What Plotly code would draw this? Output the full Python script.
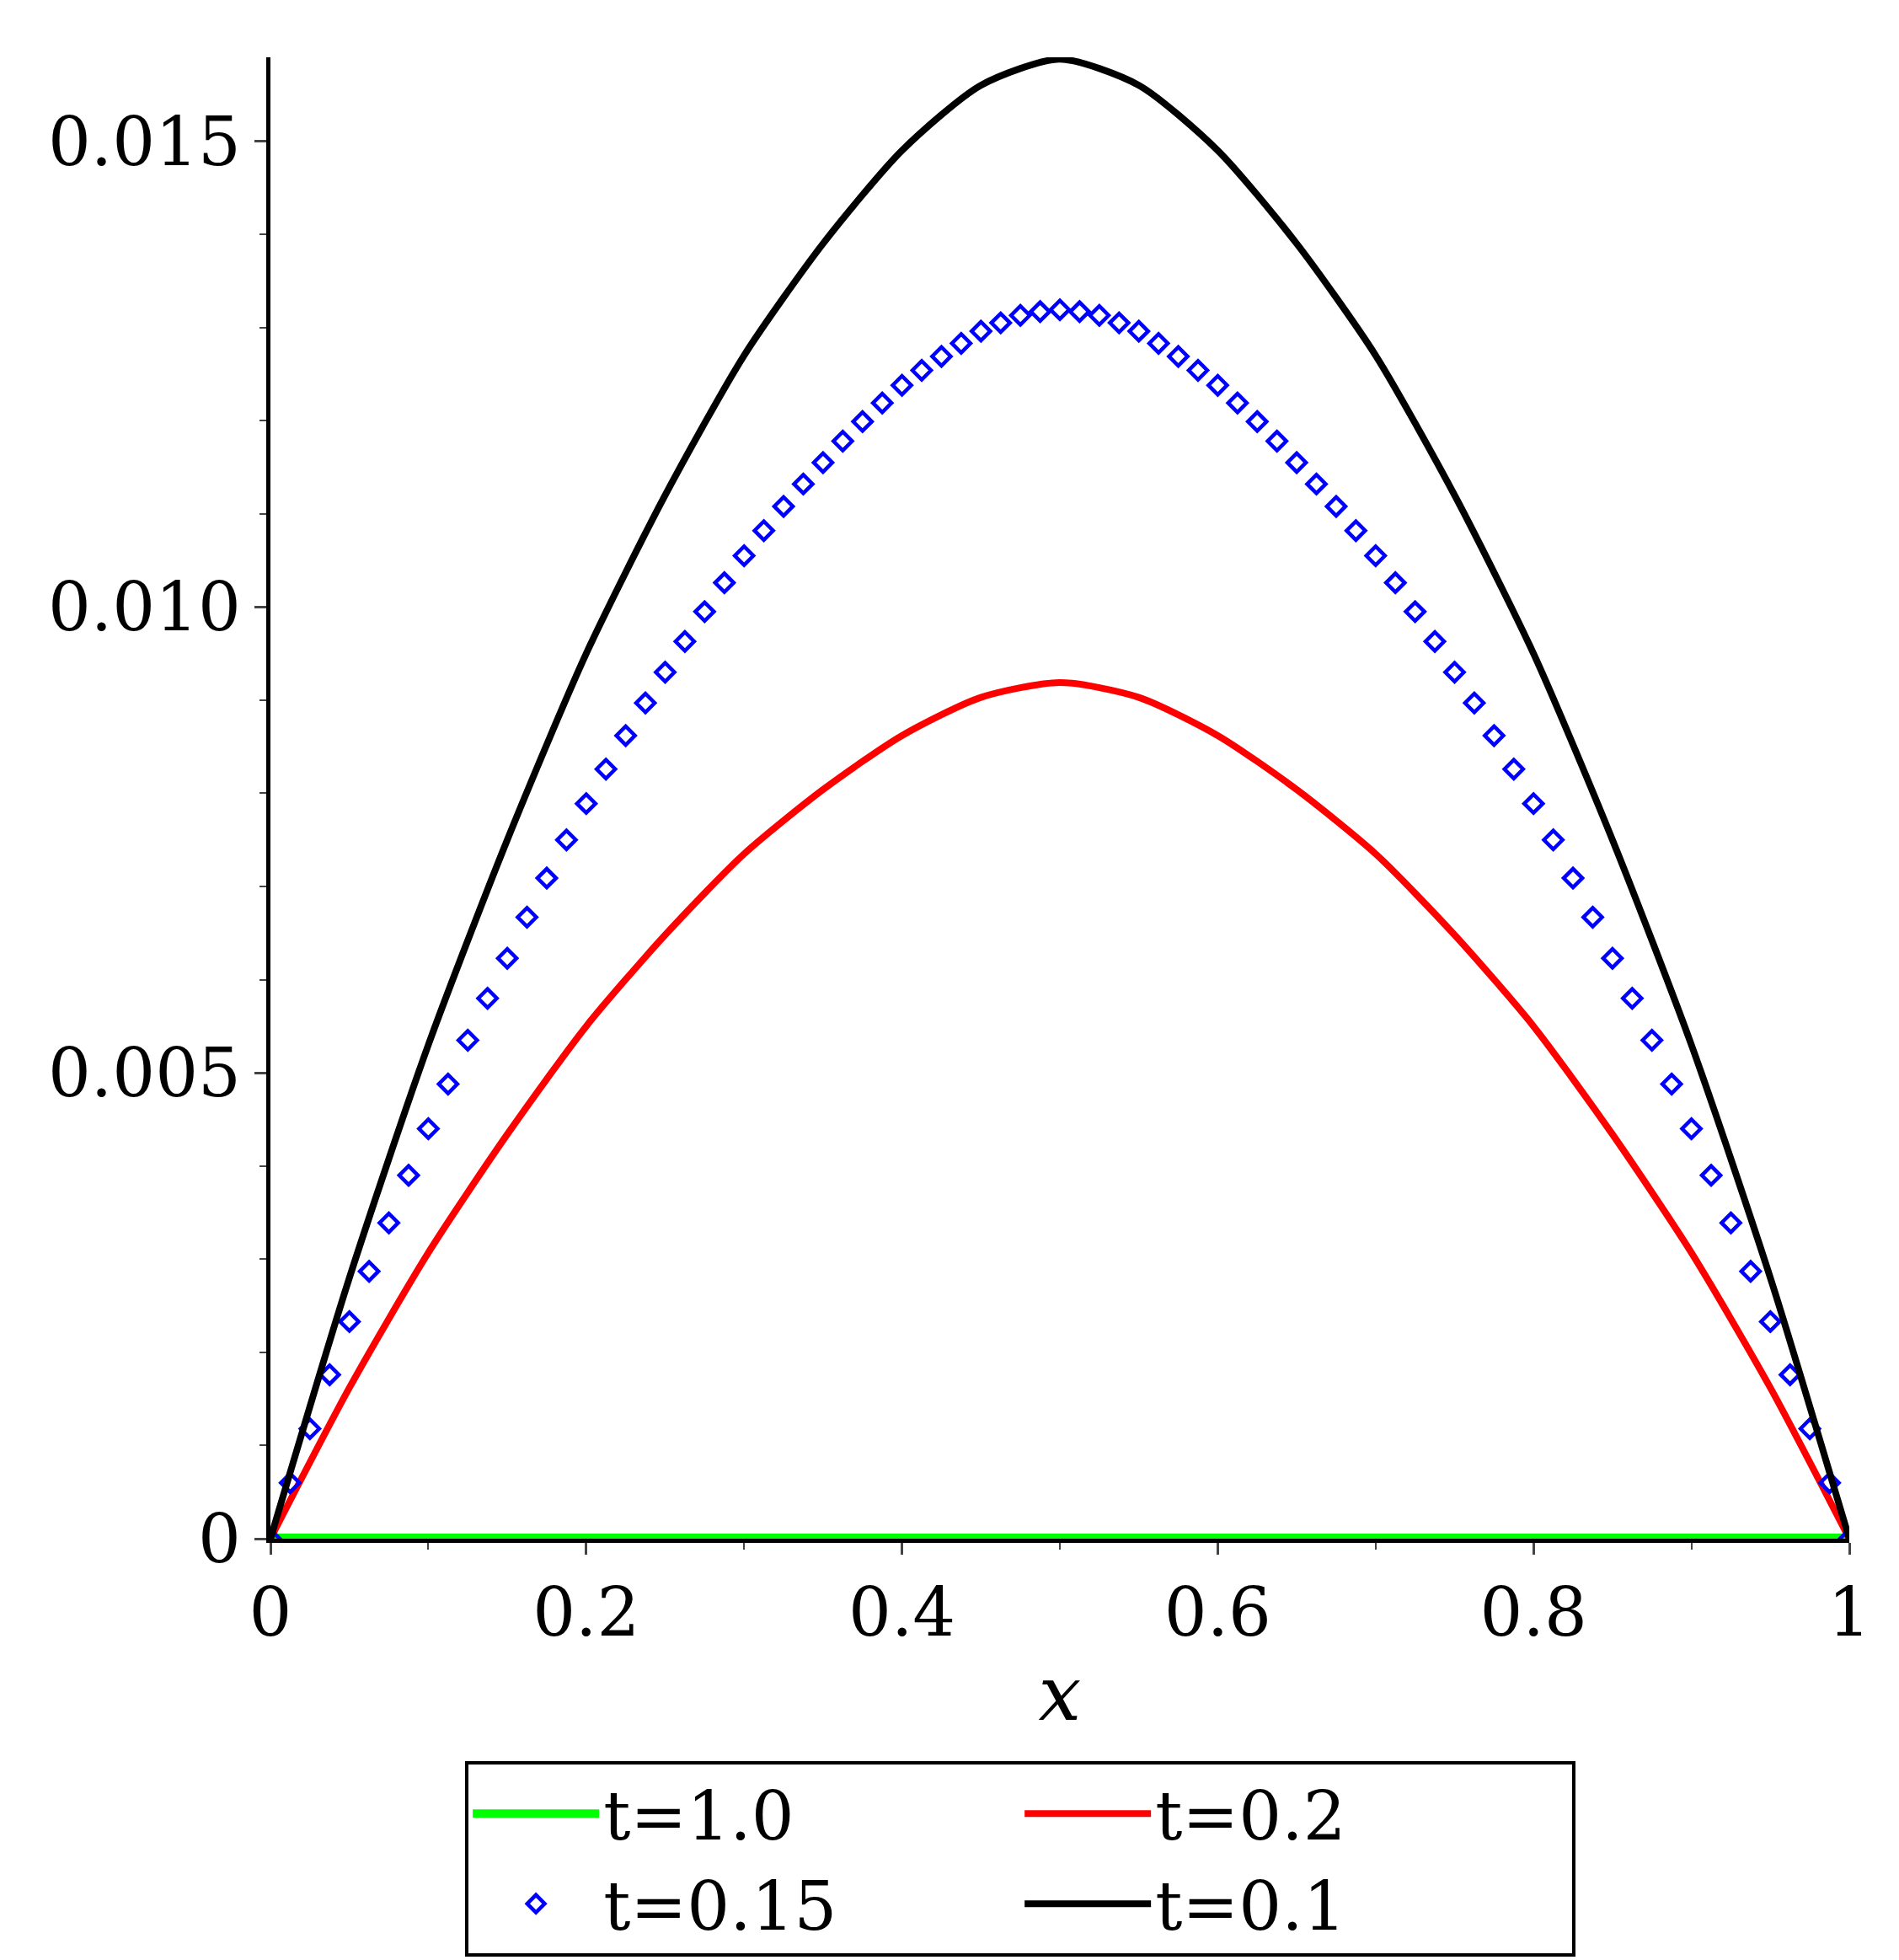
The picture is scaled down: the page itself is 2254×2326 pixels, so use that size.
import plotly.graph_objects as go

x_coarse = [0, 0.05, 0.1, 0.15, 0.2, 0.25, 0.3, 0.35, 0.4, 0.45, 0.5,
            0.55, 0.6, 0.65, 0.7, 0.75, 0.8, 0.85, 0.9, 0.95, 1.0]
y_t01 = [0, 0.0028, 0.0053, 0.0075, 0.0095, 0.0112, 0.0127, 0.0139, 0.0149, 0.0156, 0.01588,
         0.0156, 0.0149, 0.0139, 0.0127, 0.0112, 0.0095, 0.0075, 0.0053, 0.0028, 0]
y_t02 = [0, 0.00162, 0.00307, 0.00434, 0.0055, 0.00648, 0.00735, 0.00804, 0.00862, 0.00903, 0.00919,
         0.00903, 0.00862, 0.00804, 0.00735, 0.00648, 0.0055, 0.00434, 0.00307, 0.00162, 0]
y_t10 = [0] * 21

x_fine = [0, 0.0125, 0.025, 0.0375, 0.05, 0.0625, 0.075, 0.0875, 0.1, 0.1125, 0.125, 0.1375,
          0.15, 0.1625, 0.175, 0.1875, 0.2, 0.2125, 0.225, 0.2375, 0.25, 0.2625, 0.275, 0.2875,
          0.3, 0.3125, 0.325, 0.3375, 0.35, 0.3625, 0.375, 0.3875, 0.4, 0.4125, 0.425, 0.4375,
          0.45, 0.4625, 0.475, 0.4875, 0.5, 0.5125, 0.525, 0.5375, 0.55, 0.5625, 0.575, 0.5875,
          0.6, 0.6125, 0.625, 0.6375, 0.65, 0.6625, 0.675, 0.6875, 0.7, 0.7125, 0.725, 0.7375,
          0.75, 0.7625, 0.775, 0.7875, 0.8, 0.8125, 0.825, 0.8375, 0.85, 0.8625, 0.875, 0.8875,
          0.9, 0.9125, 0.925, 0.9375, 0.95, 0.9625, 0.975, 0.9875, 1.0]
y_t015 = [0, 0.0006, 0.00118, 0.00176, 0.00233, 0.00287, 0.00339, 0.0039, 0.0044, 0.00488,
          0.00535, 0.0058, 0.00623, 0.00667, 0.00709, 0.0075, 0.00789, 0.00826, 0.00862, 0.00897,
          0.0093, 0.00963, 0.00995, 0.01026, 0.01055, 0.01082, 0.01108, 0.01132, 0.01155, 0.01178,
          0.01199, 0.01219, 0.01238, 0.01254, 0.01269, 0.01283, 0.01296, 0.01305, 0.01313, 0.01317,
          0.01319, 0.01317, 0.01313, 0.01305, 0.01296, 0.01283, 0.01269, 0.01254, 0.01238, 0.01219,
          0.01199, 0.01178, 0.01155, 0.01132, 0.01108, 0.01082, 0.01055, 0.01026, 0.00995, 0.00963,
          0.0093, 0.00897, 0.00862, 0.00826, 0.00789, 0.0075, 0.00709, 0.00667, 0.00623, 0.0058,
          0.00535, 0.00488, 0.0044, 0.0039, 0.00339, 0.00287, 0.00233, 0.00176, 0.00118, 0.0006, 0]

font = "DejaVu Serif"
fig = go.Figure()
fig.add_trace(go.Scatter(x=x_coarse, y=y_t10, mode="lines", name="t=1.0",
                         line=dict(color="#00ff00", width=12)))
fig.add_trace(go.Scatter(x=x_coarse, y=y_t02, mode="lines", name="t=0.2",
                         line=dict(color="red", width=8, shape="spline", smoothing=0.7)))
fig.add_trace(go.Scatter(x=x_fine, y=y_t015, mode="markers", name="t=0.15",
                         marker=dict(symbol="diamond-open", color="blue", size=17,
                                     line=dict(width=4.5, color="blue"))))
fig.add_trace(go.Scatter(x=x_coarse, y=y_t01, mode="lines", name="t=0.1",
                         line=dict(color="black", width=8, shape="spline", smoothing=0.7)))

fig.update_layout(
    width=2254, height=2326, plot_bgcolor="white", paper_bgcolor="white",
    margin=dict(l=313, r=67, t=60, b=431),
    font=dict(family=font, size=80, color="black"),
    legend=dict(orientation="h", x=0.475, xanchor="center", y=-0.15, yanchor="top",
                bordercolor="black", borderwidth=4, font=dict(size=80),
                entrywidth=490, entrywidthmode="pixels", itemwidth=150),
)
fig.update_xaxes(range=[0, 1.0], tickvals=[0, 0.2, 0.4, 0.6, 0.8, 1],
                 ticktext=["0", "0.2", "0.4", "0.6", "0.8", "1"],
                 showline=True, linecolor="black", linewidth=5, showgrid=False,
                 zeroline=False, ticks="outside", ticklen=14, tickwidth=3,
                 minor=dict(dtick=0.1, ticks="outside", ticklen=8, tickwidth=2),
                 layer="above traces",
                 title=dict(text="<i>x</i>", font=dict(size=90), standoff=20))
fig.update_yaxes(range=[0, 0.0159], tickvals=[0, 0.005, 0.01, 0.015],
                 ticktext=["0", "0.005", "0.010", "0.015"],
                 showline=True, linecolor="black", linewidth=5, showgrid=False,
                 zeroline=False, ticks="outside", ticklen=14, tickwidth=3,
                 minor=dict(dtick=0.001, ticks="outside", ticklen=8, tickwidth=2))
fig.write_html("out.html")
